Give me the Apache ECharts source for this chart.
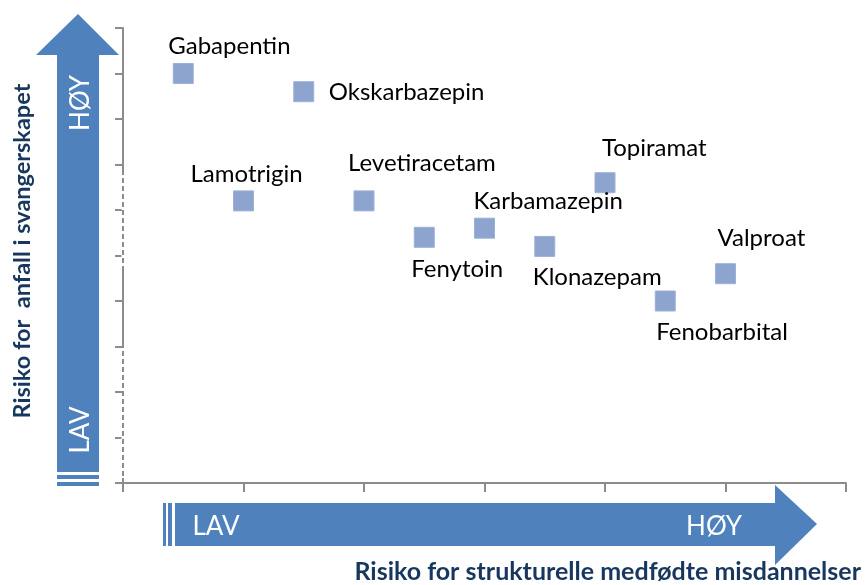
<!DOCTYPE html>
<html>
<head>
<meta charset="utf-8">
<script src="https://cdn.jsdelivr.net/npm/echarts@6/dist/echarts.min.js"></script>
<style>
  html, body { margin: 0; padding: 0; background: #fff; }
  #chart { width: 867px; height: 585px; }
</style>
</head>
<body>
<div id="chart"></div>
<script>
// legemidler og plassering (x: misdannelser, y: anfall)
const drugs = ['Gabapentin', 'Okskarbazepin', 'Lamotrigin', 'Levetiracetam', 'Fenytoin',
  'Karbamazepin', 'Klonazepam', 'Topiramat', 'Fenobarbital', 'Valproat']
const malformRisk = [0.5, 1.5, 1.0, 2.0, 2.5, 3.0, 3.5, 4.0, 4.5, 5.0]
const seizureRisk = [9.0, 8.6, 6.2, 6.2, 5.4, 5.6, 5.2, 6.6, 4.0, 4.6]

// etikettplassering: venstre kant av teksten relativt til punktet
const labelOffset = {
  Gabapentin: [-15, -27],
  Okskarbazepin: [25, 1],
  Lamotrigin: [-53, -27],
  Levetiracetam: [-16, -38],
  Fenytoin: [-13, 32],
  Karbamazepin: [-11, -27],
  Klonazepam: [-12, 31],
  Topiramat: [-3, -34],
  Fenobarbital: [-9, 31],
  Valproat: [-8, -35]
}

const arrowBlue = '#4F81BD'
const navy = '#17375E'
const axisGray = '#8C8C8C'

const chart = echarts.init(document.getElementById('chart'))

const points = drugs.map((name, i) => ({
  name,
  value: [malformRisk[i], seizureRisk[i]],
  label: { offset: labelOffset[name] }
}))

const option = {
  animation: false,
  backgroundColor: '#fff',
  grid: { left: 123, right: 21, top: 28, bottom: 102 },
  xAxis: {
    type: 'value', min: 0, max: 6, interval: 1,
    axisLine: { lineStyle: { color: axisGray, width: 2 } },
    axisTick: { length: 9, lineStyle: { color: axisGray, width: 2 } },
    axisLabel: { show: false },
    splitLine: { show: false }
  },
  yAxis: {
    type: 'value', min: 0, max: 10, interval: 1,
    axisLine: { show: true, lineStyle: { color: axisGray, width: 2 } },
    axisTick: { show: true, length: 8, lineStyle: { color: axisGray, width: 2 } },
    axisLabel: { show: false },
    splitLine: { show: false }
  },
  series: [{
    type: 'scatter',
    symbol: 'rect',
    symbolSize: 20,
    itemStyle: { color: '#8DA4CF', borderColor: '#9CB0D8', borderWidth: 1, opacity: 1 },
    label: {
      show: true,
      position: 'inside',
      align: 'left',
      verticalAlign: 'middle',
      formatter: p => p.name,
      fontFamily: 'Lato',
      fontSize: 24,
      color: '#000'
    },
    data: points
  }],
  graphic: [
    // stiplede partier av y-aksen
    { type: 'line', shape: { x1: 123, y1: 175, x2: 123, y2: 266 }, style: { stroke: '#fff', lineWidth: 3, lineDash: [3, 5] }, z: 10 },
    { type: 'line', shape: { x1: 123, y1: 348, x2: 123, y2: 478 }, style: { stroke: '#fff', lineWidth: 3, lineDash: [3, 5] }, z: 10 },
    // loddrett pil
    {
      type: 'polygon',
      shape: { points: [[57, 472], [57, 55], [36, 55], [78, 14], [119, 55], [99, 55], [99, 472]] },
      style: { fill: arrowBlue }
    },
    { type: 'rect', shape: { x: 57, y: 475, width: 42, height: 4 }, style: { fill: arrowBlue } },
    { type: 'rect', shape: { x: 57, y: 482, width: 42, height: 4 }, style: { fill: arrowBlue } },
    { type: 'text', x: 81, y: 103, rotation: Math.PI / 2, style: { text: 'HØY', fill: '#fff', font: '26px Lato', align: 'center', verticalAlign: 'middle' } },
    { type: 'text', x: 81, y: 430, rotation: Math.PI / 2, style: { text: 'LAV', fill: '#fff', font: '26px Lato', align: 'center', verticalAlign: 'middle' } },
    // vannrett pil
    {
      type: 'polygon',
      shape: { points: [[175, 503], [775, 503], [775, 485], [817, 524], [775, 565], [775, 546], [175, 546]] },
      style: { fill: arrowBlue }
    },
    { type: 'rect', shape: { x: 163, y: 503, width: 3, height: 43 }, style: { fill: arrowBlue } },
    { type: 'rect', shape: { x: 168, y: 503, width: 4, height: 43 }, style: { fill: arrowBlue } },
    { type: 'text', x: 216, y: 527, style: { text: 'LAV', fill: '#fff', font: '26px Lato', align: 'center', verticalAlign: 'middle' } },
    { type: 'text', x: 714, y: 527, style: { text: 'HØY', fill: '#fff', font: '26px Lato', align: 'center', verticalAlign: 'middle' } },
    // aksetitler
    { type: 'text', x: 22, y: 251, rotation: Math.PI / 2, style: { text: 'Risiko for  anfall i svangerskapet', fill: navy, font: 'bold 23.5px Lato', align: 'center', verticalAlign: 'middle' } },
    { type: 'text', x: 861, y: 572, style: { text: 'Risiko for strukturelle medfødte misdannelser', fill: navy, font: 'bold 25px Lato', align: 'right', verticalAlign: 'middle' } }
  ]
}

chart.setOption(option)
</script>
</body>
</html>
